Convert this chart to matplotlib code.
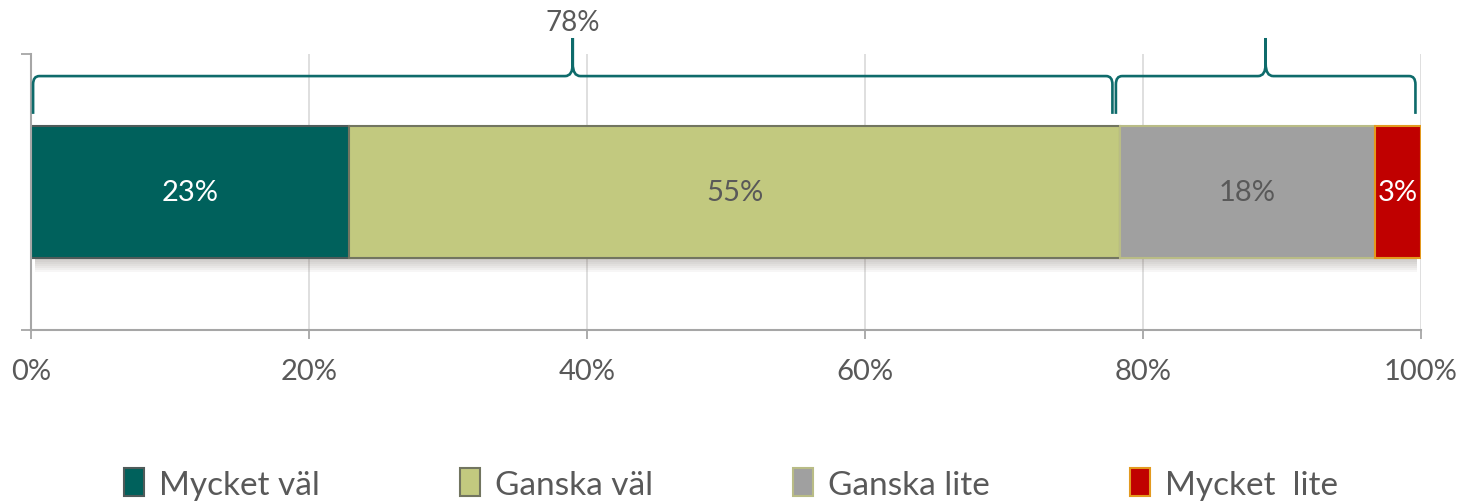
import matplotlib
matplotlib.use('Agg')

import matplotlib.pyplot as plt
from matplotlib.path import Path
from matplotlib.patches import PathPatch
import numpy as np

plt.rcParams['font.family'] = ['Lato', 'DejaVu Sans']

# Data
categories = ['Mycket väl', 'Ganska väl', 'Ganska lite', 'Mycket  lite']
values = [22.9, 55.45, 18.35, 3.3]
colors = ['#00615C', '#C2C97F', '#A0A0A0', '#C00000']
edge_colors = ['#4F5B5A', '#727560', '#B9BC86', '#E39A1F']
label_colors = ['white', '#595959', '#595959', 'white']
xticks = [0, 20, 40, 60, 80, 100]
xtick_labels = ['0%', '20%', '40%', '60%', '80%', '100%']
# braces: (first category, last category + 1, show label)
brace_groups = [(0, 2, True), (2, 4, False)]

brace_color = '#0E6B6B'
text_gray = '#595959'
axis_gray = '#A6A6A6'

fig = plt.figure(figsize=(14.62, 5.02), dpi=100)
ax = fig.add_axes([31 / 1462, 1 - 331 / 502, 1390 / 1462, 276 / 502])

lefts = np.concatenate([[0], np.cumsum(values)[:-1]])
bar_h = 0.48

# soft shadow under the bar
for i in range(1, 8):
    ax.barh(0 - i * 0.007, sum(values) - 0.6, left=0.3, height=bar_h,
            color='#6B5E55', alpha=0.05, zorder=1, linewidth=0)

bars = ax.barh(0, values, left=lefts, height=bar_h, color=colors,
               edgecolor=edge_colors, linewidth=1.5, zorder=2)

for left, v, c in zip(lefts, values, label_colors):
    ax.text(left + v / 2, 0, '%d%%' % round(v), ha='center', va='center',
            color=c, fontsize=21, zorder=3)

# Braces above the bar
def draw_brace(x0, x1, y_line=0.42, y_end=0.283, y_tip=0.558, rx=0.45, dy=0.03,
               rx_tip=0.55, dy_tip=0.045):
    xm = (x0 + x1) / 2
    verts = [
        (x0, y_end), (x0, y_line - dy),
        (x0, y_line), (x0 + rx, y_line),
        (xm - rx_tip, y_line),
        (xm, y_line), (xm, y_line + dy_tip),
        (xm, y_tip),
        (xm, y_line + dy_tip),
        (xm, y_line), (xm + rx_tip, y_line),
        (x1 - rx, y_line),
        (x1, y_line), (x1, y_line - dy),
        (x1, y_end),
    ]
    codes = [Path.MOVETO, Path.LINETO,
             Path.CURVE3, Path.CURVE3,
             Path.LINETO,
             Path.CURVE3, Path.CURVE3,
             Path.LINETO,
             Path.LINETO,
             Path.CURVE3, Path.CURVE3,
             Path.LINETO,
             Path.CURVE3, Path.CURVE3,
             Path.LINETO]
    patch = PathPatch(Path(verts, codes), fill=False, edgecolor=brace_color,
                      linewidth=1.9, clip_on=False, zorder=4)
    ax.add_patch(patch)
    return xm

# brace ends sit on the rounded split between the groups
rounded = [round(v) for v in values]
split = sum(rounded[:2])
brace_ends = [(0.15, split - 0.2), (split + 0.05, sum(values) - 0.4)]
for (i0, i1, show), (x0, x1) in zip(brace_groups, brace_ends):
    xm = draw_brace(x0, x1)
    if show:
        total = sum(rounded[i0:i1])
        ax.text(xm, 0.615, '%d%%' % total, ha='center', va='center',
                color=text_gray, fontsize=20, clip_on=False)

# Axes styling
ax.set_xlim(0, 100)
ax.set_ylim(-0.5, 0.5)
ax.set_xticks(xticks)
ax.set_xticklabels(xtick_labels)
ax.set_yticks([-0.5, 0.5])
ax.set_yticklabels([])
ax.tick_params(axis='x', direction='out', length=6.5, width=1.3, color=axis_gray,
               labelcolor=text_gray, labelsize=21, pad=14)
ax.tick_params(axis='y', direction='out', length=7.5, width=1.3, color=axis_gray)
ax.grid(axis='x', color='#D9D9D9', linewidth=1.2, zorder=0)
ax.set_axisbelow(True)
for s in ['top', 'right']:
    ax.spines[s].set_visible(False)
for s in ['left', 'bottom']:
    ax.spines[s].set_color(axis_gray)
    ax.spines[s].set_linewidth(1.5)

fig.legend(bars, categories, loc='center', bbox_to_anchor=(0.5, 0.034), ncol=4,
           frameon=False, fontsize=24, labelcolor=text_gray, handlelength=0.6,
           handleheight=0.9, handletextpad=0.45, columnspacing=4.2)

plt.savefig('out.png', dpi=100)
